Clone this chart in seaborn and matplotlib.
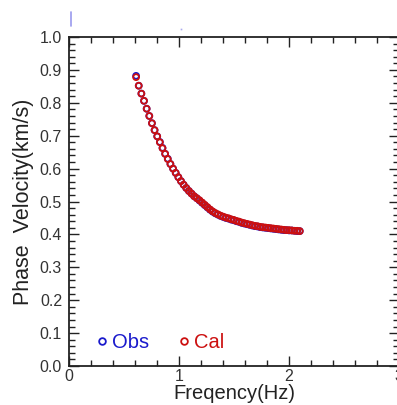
import matplotlib
matplotlib.use("Agg")
import matplotlib.pyplot as plt
from matplotlib.lines import Line2D
from matplotlib.ticker import MultipleLocator
import seaborn as sns
import pandas as pd

freq = [0.610, 0.634, 0.658, 0.682, 0.706, 0.730, 0.754, 0.778, 0.802, 0.826,
        0.850, 0.874, 0.898, 0.922, 0.946, 0.970, 0.994, 1.018, 1.042, 1.066,
        1.090, 1.114, 1.138, 1.162, 1.186, 1.210, 1.234, 1.258, 1.282, 1.306,
        1.330, 1.354, 1.378, 1.402, 1.426, 1.450, 1.474, 1.498, 1.522, 1.546,
        1.570, 1.594, 1.618, 1.642, 1.666, 1.690, 1.714, 1.738, 1.762, 1.786,
        1.810, 1.834, 1.858, 1.882, 1.906, 1.930, 1.954, 1.978, 2.002, 2.026,
        2.050, 2.074, 2.098]
cal_vel = [0.878, 0.852, 0.828, 0.806, 0.782, 0.760, 0.738, 0.717, 0.698, 0.680,
           0.662, 0.645, 0.629, 0.614, 0.600, 0.587, 0.574, 0.562, 0.551, 0.541,
           0.532, 0.524, 0.516, 0.510, 0.504, 0.497, 0.490, 0.483, 0.476, 0.470,
           0.465, 0.461, 0.457, 0.454, 0.451, 0.449, 0.446, 0.444, 0.441, 0.439,
           0.436, 0.434, 0.432, 0.430, 0.428, 0.426, 0.425, 0.423, 0.422, 0.421,
           0.420, 0.419, 0.418, 0.417, 0.416, 0.415, 0.414, 0.413, 0.413, 0.412,
           0.411, 0.411, 0.410]
obs_vel = [0.882, 0.852, 0.828, 0.806, 0.782, 0.760, 0.738, 0.717, 0.698, 0.681,
           0.663, 0.645, 0.630, 0.614, 0.600, 0.587, 0.574, 0.562, 0.551, 0.541,
           0.532, 0.524, 0.516, 0.510, 0.503, 0.496, 0.489, 0.482, 0.475, 0.469,
           0.464, 0.460, 0.456, 0.453, 0.450, 0.448, 0.445, 0.443, 0.440, 0.438,
           0.435, 0.433, 0.431, 0.429, 0.427, 0.425, 0.424, 0.422, 0.421, 0.420,
           0.419, 0.418, 0.417, 0.416, 0.415, 0.414, 0.413, 0.413, 0.412, 0.412,
           0.411, 0.410, 0.410]
x_ticks = [0, 1, 2, 3]
y_ticks = [0.0, 0.1, 0.2, 0.3, 0.4, 0.5, 0.6, 0.7, 0.8, 0.9, 1.0]

sns.set_style("ticks")
plt.rcParams["font.family"] = ["Liberation Sans", "DejaVu Sans"]

df = pd.DataFrame({"f": freq, "obs": obs_vel, "cal": cal_vel})

blue = "#1a1acc"
red = "#cc1010"

fig = plt.figure(figsize=(3.97, 4.05), dpi=100)
ax = fig.add_axes([0.1738, 0.0963, 0.8312, 0.8123])

sns.scatterplot(data=df, x="f", y="obs", ax=ax, marker="o", s=18,
                facecolors="none", edgecolor=blue, linewidth=1.3, zorder=3)
sns.scatterplot(data=df, x="f", y="cal", ax=ax, marker="o", s=18,
                facecolors="none", edgecolor=red, linewidth=1.3, zorder=4)

ax.set_xlim(0, 3)
ax.set_ylim(0, 1.0)
ax.set_xticks(x_ticks)
ax.set_xticklabels([str(t) for t in x_ticks])
ax.set_yticks(y_ticks)
ax.set_yticklabels([f"{t:.1f}" for t in y_ticks])
ax.xaxis.set_minor_locator(MultipleLocator(0.2))
ax.yaxis.set_minor_locator(MultipleLocator(0.02))
ax.tick_params(which="both", direction="in", top=True, right=True,
               width=1.0, colors="#222222", labelsize=11.5, labelcolor="#333333")
ax.tick_params(which="major", length=7.5)
ax.tick_params(which="minor", length=4.5)
ax.tick_params(axis="x", which="major", pad=2.5)
ax.tick_params(axis="y", which="major", pad=5)
for s in ax.spines.values():
    s.set_linewidth(1.3)
    s.set_color("#222222")

ax.set_xlabel("Freqency(Hz)", fontsize=14.5, color="#222222", labelpad=0)
ax.set_ylabel("Phase  Velocity(km/s)", fontsize=15.5, color="#222222", labelpad=4)

handles = [Line2D([], [], marker="o", ls="none", mfc="none", mec=blue, mew=1.3, ms=4.8),
           Line2D([], [], marker="o", ls="none", mfc="none", mec=red, mew=1.3, ms=4.8)]
leg = ax.legend(handles, ["Obs", "Cal"], ncol=2, frameon=False, loc="lower left",
                bbox_to_anchor=(0.082, 0.043), fontsize=14.5, handletextpad=0.2,
                columnspacing=1.4, handlelength=0.6, borderaxespad=0, borderpad=0)
for t, c in zip(leg.get_texts(), [blue, red]):
    t.set_color(c)

fig.add_artist(Line2D([71 / 397, 71 / 397], [1 - 12 / 405, 1 - 26 / 405],
                      color="#9999ee", lw=1.2, transform=fig.transFigure))
fig.add_artist(Line2D([181 / 397], [1 - 29 / 405], marker="s", ms=1.2, ls="none",
                      color="#aaaaee", mec="none", transform=fig.transFigure))

fig.savefig("out.png", dpi=100)
